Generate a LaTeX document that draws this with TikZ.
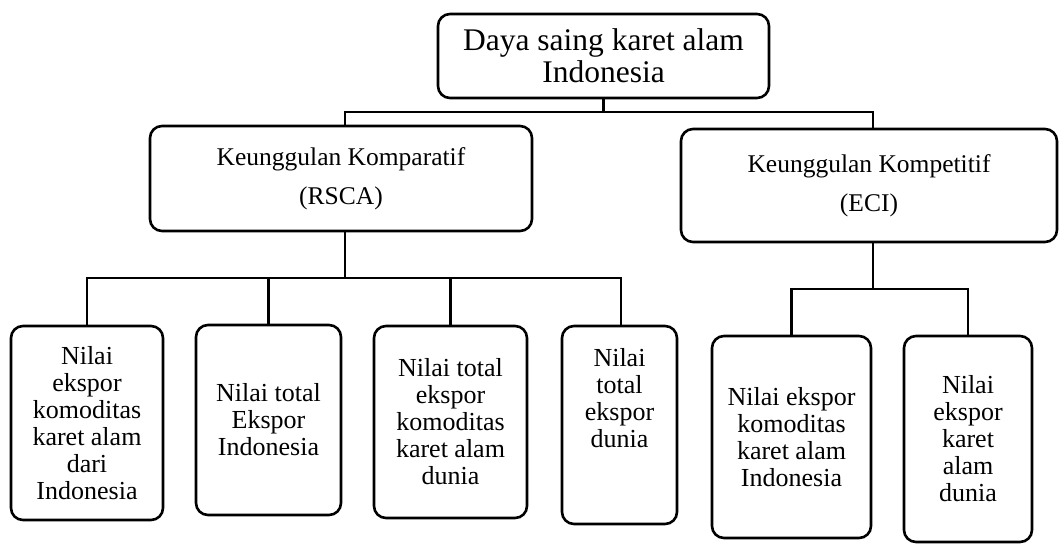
\documentclass[tikz,border=0pt]{standalone}
\usepackage{fontspec}
\setmainfont{Liberation Serif}
\usetikzlibrary{positioning}
\tikzset{kotak/.style = {draw, line width=2.6pt, rounded corners=12pt, align=center,
                         inner sep=0pt, outer sep=0pt},
         garis/.style = {line width=2.4pt}}
\newcommand{\hurufatas}{\fontsize{31.5}{32}\selectfont}
\newcommand{\huruftengah}{\fontsize{25.5}{39}\selectfont}
\newcommand{\hurufbawah}{\fontsize{26}{27}\selectfont}

\begin{document}
\begin{tikzpicture}[x=1pt, y=-1pt]
    \useasboundingbox (0, 0) rectangle (1059, 544);
    \node [kotak, minimum width=331, minimum height=84, font=\hurufatas] (daya) at (603.5, 56) {Daya saing karet alam\\Indonesia};
    \node [kotak, minimum width=382, minimum height=105, font=\huruftengah] (komp) at (341, 178.5) {Keunggulan Komparatif\\(RSCA)};
    \node [kotak, minimum width=376, minimum height=113, font=\huruftengah] (eci) at (869, 185.5) {Keunggulan Kompetitif\\(ECI)};
    \node [kotak, minimum width=152, minimum height=194, font=\hurufbawah] (n1) at (87, 423) {Nilai\\ekspor\\komoditas\\karet alam\\dari\\Indonesia};
    \node [kotak, minimum width=145, minimum height=190, font=\hurufbawah] (n2) at (268.5, 420) {Nilai total\\Ekspor\\Indonesia};
    \node [kotak, minimum width=153, minimum height=192, font=\hurufbawah] (n3) at (450.5, 422) {Nilai total\\ekspor\\komoditas\\karet alam\\dunia};
    \node [kotak, minimum width=115, minimum height=198] (n4) at (619.5, 425) {};
    \node [align=center, inner sep=0pt, font=\hurufbawah, yshift=27pt] (t4) at (n4.center) {Nilai\\total\\ekspor\\dunia};
    \node [kotak, minimum width=159, minimum height=202, font=\hurufbawah] (n5) at (791.5, 437) {Nilai ekspor\\komoditas\\karet alam\\Indonesia};
    \node [kotak, minimum width=128, minimum height=206, font=\hurufbawah] (n6) at (968, 439) {Nilai\\ekspor\\karet\\alam\\dunia};
    \coordinate (j1) at (603.5, 112);
    \coordinate (j2) at (345, 278);
    \coordinate (j3) at (873, 289);
    \draw [garis] (daya.south) -- (j1);
    \draw [garis] ([xshift=4]komp.north) |- (j1) -| ([xshift=4]eci.north);
    \draw [garis] ([xshift=4]komp.south) -- (j2);
    \draw [garis] (n1.north) |- (j2) -| ([xshift=1.5]n4.north);
    \draw [garis] (n2.north) -- (n2.north |- j2);
    \draw [garis] (n3.north) -- (n3.north |- j2);
    \draw [garis] ([xshift=4]eci.south) -- (j3);
    \draw [garis] (n5.north) |- (j3) -| (n6.north);
  \end{tikzpicture}
\end{document}
